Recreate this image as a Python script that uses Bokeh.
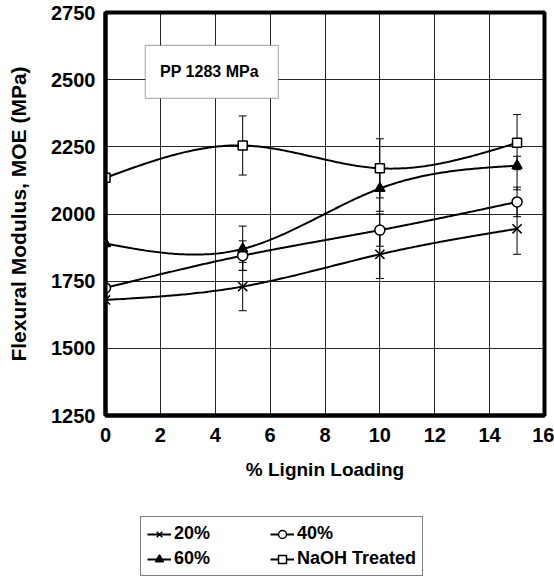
import numpy as np
from bokeh.plotting import figure
from bokeh.layouts import column
from bokeh.models import (ColumnDataSource, Whisker, TeeHead, Legend, LegendItem,
                          BoxAnnotation, Label, FixedTicker)
from bokeh.embed import file_html
from bokeh.resources import INLINE

loading = [0, 5, 10, 15]
series_names = ["20%", "40%", "60%", "NaOH Treated"]
moe_20 = [1680, 1730, 1850, 1945]
moe_40 = [1725, 1845, 1940, 2045]
moe_60 = [1890, 1870, 2095, 2180]
moe_naoh = [2135, 2255, 2170, 2265]

# error bars (lower, upper) at 5, 10, 15 % loading
err_x = [5, 10, 15]
err_20_lo = [1640, 1760, 1850]
err_20_hi = [1820, 1940, 2040]
err_40_lo = [1790, 1880, 1990]
err_40_hi = [1900, 2000, 2100]
err_60_lo = [1790, 2010, 2090]
err_60_hi = [1955, 2180, 2215]
err_naoh_lo = [2145, 2060, 2165]
err_naoh_hi = [2365, 2280, 2370]

x_ticks = [0, 2, 4, 6, 8, 10, 12, 14, 16]
y_ticks = [1250, 1500, 1750, 2000, 2250, 2500, 2750]

FONT = "Liberation Sans"


def natural_spline(xs, ys, n=200):
    xs = np.asarray(xs, float)
    ys = np.asarray(ys, float)
    k = len(xs)
    h = np.diff(xs)
    A = np.zeros((k, k))
    b = np.zeros(k)
    A[0, 0] = 1
    A[-1, -1] = 1
    for i in range(1, k - 1):
        A[i, i - 1] = h[i - 1]
        A[i, i] = 2 * (h[i - 1] + h[i])
        A[i, i + 1] = h[i]
        b[i] = 3 * ((ys[i + 1] - ys[i]) / h[i] - (ys[i] - ys[i - 1]) / h[i - 1])
    c = np.linalg.solve(A, b)
    xx = np.linspace(xs[0], xs[-1], n)
    yy = np.empty_like(xx)
    for j, xv in enumerate(xx):
        i = min(np.searchsorted(xs, xv, side="right") - 1, k - 2)
        dx = xv - xs[i]
        bb = (ys[i + 1] - ys[i]) / h[i] - h[i] * (2 * c[i] + c[i + 1]) / 3
        d = (c[i + 1] - c[i]) / (3 * h[i])
        yy[j] = ys[i] + bb * dx + c[i] * dx ** 2 + d * dx ** 3
    return xx, yy


p = figure(frame_width=439, frame_height=403,
           min_border_left=105, min_border_right=10, min_border_top=12, min_border_bottom=85,
           x_range=(0, 16), y_range=(1250, 2750),
           output_backend="svg", toolbar_location=None)

p.outline_line_color = "black"
p.outline_line_width = 4
p.background_fill_color = "white"
p.border_fill_color = "white"

for ax in (p.xaxis[0], p.yaxis[0]):
    ax.axis_line_width = 4
    ax.axis_line_color = "black"
    ax.major_tick_line_color = None
    ax.minor_tick_line_color = None
    ax.major_label_text_font = FONT
    ax.major_label_text_font_style = "bold"
    ax.major_label_text_font_size = "20px"
    ax.major_label_text_color = "black"
    ax.axis_label_text_font = FONT
    ax.axis_label_text_font_style = "bold"
    ax.axis_label_text_font_size = "19px"
    ax.axis_label_text_color = "black"

p.yaxis.axis_label_text_font_size = "21px"
p.xaxis.ticker = FixedTicker(ticks=x_ticks)
p.yaxis.ticker = FixedTicker(ticks=y_ticks)
p.xaxis.axis_label = "% Lignin Loading"
p.yaxis.axis_label = "Flexural Modulus, MOE (MPa)"
p.xaxis.major_label_standoff = 6
p.xaxis.axis_label_standoff = 14
p.yaxis.major_label_standoff = 4
p.yaxis.axis_label_standoff = 18

p.xgrid.ticker = FixedTicker(ticks=x_ticks)
p.ygrid.ticker = FixedTicker(ticks=y_ticks)
p.grid.grid_line_color = "black"
p.grid.grid_line_width = 1
p.grid.grid_line_alpha = 0.85

# PP reference box
p.add_layout(BoxAnnotation(left=1.45, right=6.3, bottom=2430, top=2628,
                           fill_color="white", fill_alpha=1, line_color="black", line_width=1.2))
p.add_layout(Label(x=3.87, y=2529, text="PP  1283 MPa", text_font=FONT, text_font_style="bold",
                   text_font_size="16px", text_color="black",
                   text_align="center", text_baseline="middle"))

all_y = [moe_20, moe_40, moe_60, moe_naoh]
all_lo = [err_20_lo, err_40_lo, err_60_lo, err_naoh_lo]
all_hi = [err_20_hi, err_40_hi, err_60_hi, err_naoh_hi]
markers = ["x", "circle", "triangle", "square"]
fills = ["white", "white", "black", "white"]
sizes = [13, 10, 10, 9]

# separate strip for the legend below the chart (its ranges keep the proxy glyphs out of view)
pl = figure(width=554, height=79, min_border=0, x_range=(100, 101), y_range=(0, 1),
            output_backend="svg", toolbar_location=None)
pl.axis.visible = False
pl.grid.visible = False
pl.outline_line_color = None
pl.background_fill_color = "white"
pl.border_fill_color = "white"

items = {}
for name, ys, lo, hi, mk, fc, sz in zip(series_names, all_y, all_lo, all_hi, markers, fills, sizes):
    w = Whisker(source=ColumnDataSource(dict(x=err_x, lo=lo, hi=hi)), base="x", lower="lo", upper="hi",
                line_color="black", line_width=1,
                upper_head=TeeHead(size=8, line_color="black", line_width=1),
                lower_head=TeeHead(size=8, line_color="black", line_width=1))
    p.add_layout(w)
    xx, yy = natural_spline(loading, ys)
    p.line(xx, yy, line_color="black", line_width=2)
    p.scatter(loading, ys, marker=mk, size=sz, line_color="black", fill_color=fc, line_width=1.5)
    # legend proxies in the legend strip
    lln = pl.line(loading, ys, line_color="black", line_width=2)
    lsc = pl.scatter(loading, ys, marker=mk, size=sz, line_color="black", fill_color=fc, line_width=1.5)
    items[name] = LegendItem(label=name, renderers=[lln, lsc])

# legend fills column by column: order so rows read 20% 40% / 60% NaOH
order = ["20%", "60%", "40%", "NaOH Treated"]
legend = Legend(items=[items[k] for k in order], ncols=2, location=(35, 3), orientation="vertical",
                label_text_font=FONT, label_text_font_size="18px", label_text_font_style="bold",
                label_text_color="black", label_width=92,
                border_line_color="black", border_line_width=1.5,
                glyph_width=24, label_standoff=3, spacing=4, padding=6, margin=0,
                background_fill_alpha=1)
pl.add_layout(legend, "center")

layout = column(p, pl, spacing=0)
open("out.html", "w").write(file_html(layout, INLINE))
